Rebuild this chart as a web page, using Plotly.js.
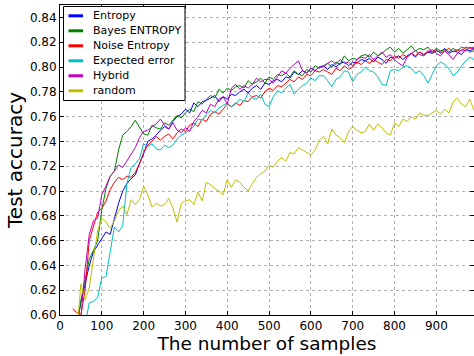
<!DOCTYPE html>
<html>
<head>
<meta charset="utf-8">
<script src="https://cdn.plot.ly/plotly-3.0.1.min.js"></script>
<style>
html,body{margin:0;padding:0;background:#fff;}
#chart{width:474px;height:356px;}
</style>
</head>
<body>
<div id="chart"></div>
<script>
// number of samples (x) : 30 .. 990, step 10
const samples = [
  30,40,50,60,70,80,90,100,110,120,
  130,140,150,160,170,180,190,200,210,220,
  230,240,250,260,270,280,290,300,310,320,
  330,340,350,360,370,380,390,400,410,420,
  430,440,450,460,470,480,490,500,510,520,
  530,540,550,560,570,580,590,600,610,620,
  630,640,650,660,670,680,690,700,710,720,
  730,740,750,760,770,780,790,800,810,820,
  830,840,850,860,870,880,890,900,910,920,
  930,940,950,960,970,980,990
];

const seriesNames = ["Entropy","Bayes ENTROPY","Noise Entropy","Expected error","Hybrid","random"];
const seriesColors = ["#0000ff","#008000","#ff0000","#00bfbf","#bf00bf","#bfbf00"];

const entropy = [
  0.585,0.592,0.610,0.626,0.640,0.651,0.656,0.662,0.667,0.665,
  0.678,0.690,0.700,0.706,0.710,0.713,0.722,0.730,0.740,0.742,
  0.745,0.749,0.752,0.750,0.756,0.760,0.762,0.766,0.763,0.771,
  0.768,0.772,0.773,0.775,0.777,0.772,0.776,0.774,0.778,0.777,
  0.780,0.782,0.779,0.783,0.785,0.782,0.787,0.786,0.789,0.790,
  0.788,0.792,0.791,0.796,0.794,0.797,0.795,0.799,0.797,0.800,
  0.801,0.798,0.802,0.800,0.803,0.804,0.801,0.804,0.803,0.806,
  0.805,0.807,0.804,0.808,0.806,0.803,0.808,0.807,0.809,0.806,
  0.809,0.811,0.808,0.812,0.810,0.812,0.811,0.813,0.812,0.815,
  0.811,0.813,0.812,0.810,0.814,0.813,0.815
];
const bayesEntropy = [
  0.575,0.588,0.612,0.628,0.645,0.652,0.660,0.685,0.702,0.712,
  0.716,0.733,0.745,0.748,0.752,0.757,0.751,0.746,0.745,0.753,
  0.751,0.750,0.755,0.753,0.757,0.761,0.759,0.763,0.766,0.764,
  0.772,0.770,0.774,0.777,0.775,0.782,0.779,0.783,0.781,0.784,
  0.785,0.783,0.789,0.786,0.788,0.791,0.787,0.792,0.790,0.794,
  0.793,0.795,0.792,0.797,0.794,0.793,0.798,0.796,0.801,0.799,
  0.801,0.803,0.800,0.804,0.802,0.809,0.805,0.807,0.806,0.809,
  0.810,0.808,0.812,0.809,0.811,0.814,0.816,0.812,0.815,0.811,
  0.814,0.817,0.813,0.815,0.814,0.816,0.812,0.815,0.813,0.814,
  0.812,0.815,0.813,0.816,0.815,0.812,0.813
];
const noiseEntropy = [
  0.605,0.602,0.600,0.620,0.660,0.672,0.683,0.686,0.692,0.701,
  0.707,0.711,0.709,0.712,0.711,0.715,0.722,0.731,0.737,0.740,
  0.744,0.741,0.744,0.746,0.742,0.747,0.750,0.748,0.753,0.755,
  0.752,0.758,0.756,0.762,0.764,0.762,0.766,0.770,0.768,0.771,
  0.769,0.773,0.772,0.776,0.777,0.775,0.780,0.783,0.781,0.785,
  0.784,0.787,0.790,0.788,0.792,0.790,0.794,0.793,0.797,0.796,
  0.798,0.796,0.794,0.799,0.797,0.801,0.798,0.800,0.804,0.802,
  0.805,0.803,0.806,0.804,0.802,0.806,0.805,0.809,0.807,0.810,
  0.808,0.811,0.809,0.812,0.810,0.813,0.812,0.814,0.811,0.813,
  0.815,0.812,0.814,0.813,0.816,0.815,0.816
];
const expectedError = [
  0.560,0.570,0.580,0.592,0.610,0.611,0.614,0.630,0.631,0.650,
  0.671,0.667,0.672,0.706,0.719,0.722,0.726,0.738,0.736,0.738,
  0.734,0.733,0.737,0.735,0.737,0.742,0.745,0.747,0.749,0.752,
  0.758,0.757,0.762,0.765,0.763,0.767,0.769,0.771,0.768,0.770,
  0.774,0.772,0.779,0.775,0.774,0.778,0.770,0.768,0.776,0.781,
  0.779,0.783,0.786,0.778,0.782,0.785,0.787,0.791,0.789,0.793,
  0.793,0.789,0.784,0.790,0.792,0.797,0.796,0.788,0.794,0.796,
  0.800,0.797,0.796,0.792,0.786,0.785,0.797,0.798,0.797,0.800,
  0.801,0.799,0.795,0.797,0.793,0.787,0.794,0.801,0.804,0.802,
  0.799,0.793,0.796,0.801,0.805,0.808,0.806
];
const hybrid = [
  0.570,0.582,0.598,0.637,0.665,0.676,0.678,0.697,0.704,0.712,
  0.716,0.721,0.719,0.724,0.729,0.735,0.743,0.748,0.749,0.752,
  0.754,0.758,0.753,0.750,0.755,0.749,0.747,0.751,0.748,0.756,
  0.760,0.765,0.763,0.770,0.768,0.774,0.776,0.770,0.783,0.786,
  0.782,0.785,0.783,0.786,0.791,0.788,0.790,0.790,0.787,0.792,
  0.797,0.795,0.799,0.802,0.805,0.797,0.795,0.799,0.797,0.800,
  0.800,0.803,0.805,0.802,0.806,0.803,0.804,0.801,0.806,0.808,
  0.807,0.810,0.806,0.809,0.812,0.808,0.810,0.806,0.803,0.801,
  0.808,0.811,0.813,0.810,0.809,0.812,0.814,0.811,0.809,0.813,
  0.810,0.806,0.811,0.814,0.813,0.816,0.814
];
const random = [
  0.570,0.585,0.625,0.612,0.622,0.645,0.668,0.678,0.675,0.670,
  0.676,0.684,0.688,0.681,0.693,0.689,0.693,0.704,0.697,0.687,
  0.690,0.688,0.689,0.694,0.686,0.675,0.690,0.692,0.693,0.689,
  0.699,0.692,0.707,0.705,0.702,0.700,0.697,0.709,0.703,0.709,
  0.707,0.703,0.700,0.706,0.711,0.714,0.716,0.721,0.719,0.724,
  0.727,0.724,0.731,0.730,0.735,0.733,0.731,0.729,0.733,0.741,
  0.744,0.738,0.750,0.745,0.743,0.739,0.748,0.752,0.749,0.747,
  0.748,0.754,0.749,0.754,0.751,0.747,0.745,0.755,0.752,0.758,
  0.756,0.760,0.758,0.763,0.761,0.761,0.763,0.765,0.762,0.766,
  0.763,0.772,0.775,0.770,0.768,0.774,0.765
];

const xTicks = [0,100,200,300,400,500,600,700,800,900];
const yTicks = [0.60,0.62,0.64,0.66,0.68,0.70,0.72,0.74,0.76,0.78,0.80,0.82,0.84];

const allSeries = [entropy, bayesEntropy, noiseEntropy, expectedError, hybrid, random];

const traces = allSeries.map((ys, i) => ({
  x: samples, y: ys, type: 'scatter', mode: 'lines',
  name: seriesNames[i], showlegend: false,
  line: {color: seriesColors[i], width: 1}
}));

const FONT = 'DejaVu Sans, sans-serif';

// hand-drawn legend (matplotlib style) in paper coordinates
const plotL = 60, plotT = 5, plotW = 414, plotH = 310;
const px2x = p => (p - plotL) / plotW;
const py2y = p => (plotT + plotH - p) / plotH;
const shapes = [{
  type: 'rect', xref: 'paper', yref: 'paper',
  x0: px2x(63.5), x1: px2x(185), y0: py2y(100.5), y1: py2y(6.5),
  line: {color: '#000', width: 1}, fillcolor: 'rgba(255,255,255,1)', layer: 'above'
}];
const annotations = [];
seriesNames.forEach((nm, i) => {
  const cy = 15.8 + i * 15.0;
  shapes.push({
    type: 'line', xref: 'paper', yref: 'paper',
    x0: px2x(68.5), x1: px2x(83), y0: py2y(cy), y1: py2y(cy),
    line: {color: seriesColors[i], width: 3}, layer: 'above'
  });
  annotations.push({
    xref: 'paper', yref: 'paper', x: px2x(91), y: py2y(cy),
    xanchor: 'left', yanchor: 'middle', showarrow: false,
    text: nm, font: {family: FONT, size: 11, color: '#000'}
  });
});

const layout = {
  width: 474, height: 356,
  margin: {l: plotL, r: 474 - plotL - plotW, t: plotT, b: 356 - plotT - plotH},
  paper_bgcolor: '#fff', plot_bgcolor: '#fff',
  showlegend: false,
  font: {family: FONT, color: '#000'},
  xaxis: {
    range: [0, 990], tickvals: xTicks, ticktext: xTicks.map(String),
    showline: true, mirror: 'ticks', linecolor: '#000', linewidth: 1,
    ticks: 'inside', ticklen: 4, tickcolor: '#000',
    showgrid: true, gridcolor: '#b0b0b0', griddash: 'dot', gridwidth: 1,
    zeroline: false,
    tickfont: {family: FONT, size: 12, color: '#000'},
    title: {text: 'The number of samples', font: {family: FONT, size: 18.5, color: '#000'}, standoff: 3}
  },
  yaxis: {
    range: [0.60, 0.85], tickvals: yTicks, ticktext: yTicks.map(v => v.toFixed(2)),
    showline: true, mirror: 'ticks', linecolor: '#000', linewidth: 1,
    ticks: 'inside', ticklen: 4, tickcolor: '#000',
    showgrid: true, gridcolor: '#b0b0b0', griddash: 'dot', gridwidth: 1,
    zeroline: false,
    tickfont: {family: FONT, size: 12, color: '#000'},
    title: {text: 'Test accuracy', font: {family: FONT, size: 20, color: '#000'}, standoff: 1}
  },
  shapes: shapes,
  annotations: annotations
};

Plotly.newPlot('chart', traces, layout, {staticPlot: true, displayModeBar: false});
</script>
</body>
</html>
